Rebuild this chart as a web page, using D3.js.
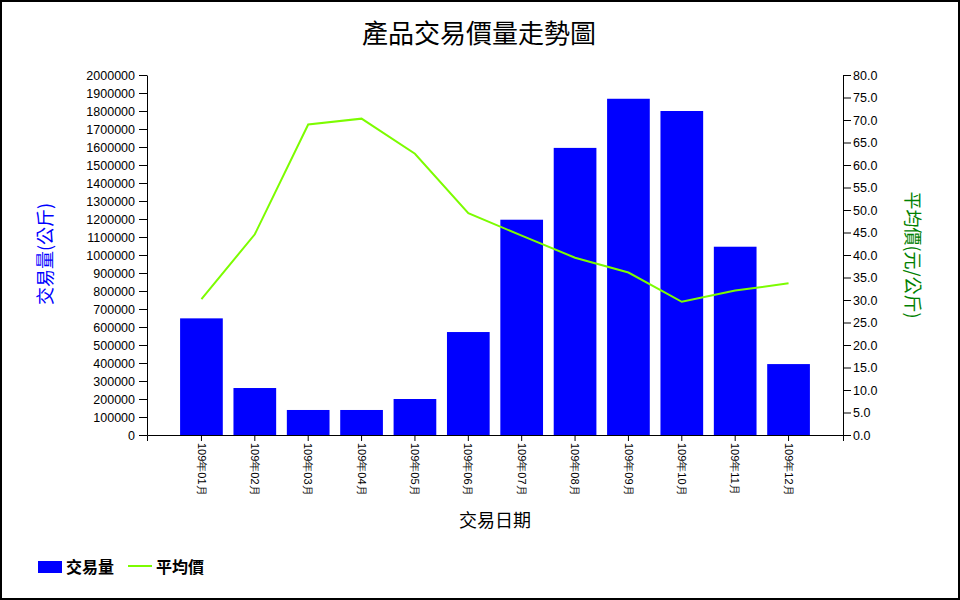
<html>
<head>
<meta charset="utf-8">
<script src="https://d3js.org/d3.v7.min.js"></script>
<style>
  body { margin: 0; background: #fff; }
  .axis text { font-family: "Liberation Sans", Arial, sans-serif; font-size: 12.5px; fill: #000; }
  .axis path, .axis line { stroke: #000; }
  .cjk { font-family: "Noto Sans CJK TC", sans-serif; }
</style>
</head>
<body>
<script>
// 資料
var months = ["109年01月","109年02月","109年03月","109年04月","109年05月","109年06月",
              "109年07月","109年08月","109年09月","109年10月","109年11月","109年12月"];
var volume = [648000, 261000, 139000, 139000, 200000, 572000,
              1196000, 1595000, 1868000, 1800000, 1046000, 394000];
var price = [30.2, 44.6, 69.0, 70.3, 62.5, 49.3, 44.3, 39.4, 36.1, 29.6, 32.1, 33.7];
var volTicks = d3.range(0, 2000001, 100000);
var priceTicks = d3.range(0, 80.1, 5);

var W = 960, H = 600;
var plotLeft = 147, plotRight = 843, plotTop = 75, plotBottom = 435;

var svg = d3.select("body").append("svg")
  .attr("width", W).attr("height", H);

svg.append("rect")
  .attr("x", 1).attr("y", 1).attr("width", W - 2).attr("height", H - 2)
  .attr("fill", "#fff").attr("stroke", "#000").attr("stroke-width", 2);

var x = d3.scaleBand().domain(months).range([plotLeft, plotRight])
  .paddingInner(0.2).paddingOuter(0.62);
var y = d3.scaleLinear().domain([0, 2000000]).range([plotBottom, plotTop]);
var y2 = d3.scaleLinear().domain([0, 80]).range([plotBottom, plotTop]);

// 長條
svg.append("g").selectAll("rect").data(volume).enter().append("rect")
  .attr("x", function(d, i) { return x(months[i]); })
  .attr("y", function(d) { return y(d); })
  .attr("width", x.bandwidth())
  .attr("height", function(d) { return plotBottom - y(d); })
  .attr("fill", "#0000ff");

// 折線
var line = d3.line()
  .x(function(d, i) { return x(months[i]) + x.bandwidth() / 2; })
  .y(function(d) { return y2(d); });
svg.append("path").datum(price)
  .attr("d", line)
  .attr("fill", "none")
  .attr("stroke", "#7cfc00")
  .attr("stroke-width", 2);

// 座標軸
svg.append("g").attr("class", "axis")
  .attr("transform", "translate(" + plotLeft + ",0)")
  .call(d3.axisLeft(y).tickValues(volTicks).tickFormat(d3.format("d")).tickSize(8).tickSizeOuter(0).tickPadding(4));

svg.append("g").attr("class", "axis")
  .attr("transform", "translate(" + plotRight + ",0)")
  .call(d3.axisRight(y2).tickValues(priceTicks).tickFormat(d3.format(".1f")).tickSize(8).tickSizeOuter(0).tickPadding(2));

var xa = svg.append("g").attr("class", "axis")
  .attr("transform", "translate(0," + plotBottom + ")")
  .call(d3.axisBottom(x).tickSize(6).tickSizeOuter(6));
xa.selectAll("text")
  .attr("class", "cjk")
  .style("font-size", "11px")
  .attr("transform", "rotate(90)")
  .attr("x", 8).attr("y", 0).attr("dy", "0.35em")
  .style("text-anchor", "start");

// 標題與軸標籤
svg.append("text").attr("class", "cjk")
  .attr("x", 479).attr("y", 43)
  .attr("text-anchor", "middle")
  .style("font-size", "26px")
  .text("產品交易價量走勢圖");

svg.append("text").attr("class", "cjk")
  .attr("transform", "translate(52,254) rotate(-90)")
  .attr("text-anchor", "middle")
  .style("font-size", "18px").attr("fill", "#0000ff")
  .text("交易量(公斤)");

svg.append("text").attr("class", "cjk")
  .attr("transform", "translate(906,255) rotate(90)")
  .attr("text-anchor", "middle")
  .style("font-size", "18px").attr("fill", "#008000")
  .text("平均價(元/公斤)");

svg.append("text").attr("class", "cjk")
  .attr("x", 495).attr("y", 527)
  .attr("text-anchor", "middle")
  .style("font-size", "18px")
  .text("交易日期");

// 圖例
var legend = svg.append("g");
legend.append("rect").attr("x", 38).attr("y", 561).attr("width", 24).attr("height", 12).attr("fill", "#0000ff");
legend.append("text").attr("class", "cjk").attr("x", 66).attr("y", 573)
  .style("font-size", "16px").style("font-weight", "bold").text("交易量");
legend.append("line").attr("x1", 128).attr("x2", 152).attr("y1", 566).attr("y2", 566)
  .attr("stroke", "#7cfc00").attr("stroke-width", 2);
legend.append("text").attr("class", "cjk").attr("x", 156).attr("y", 573)
  .style("font-size", "16px").style("font-weight", "bold").text("平均價");
</script>
</body>
</html>
